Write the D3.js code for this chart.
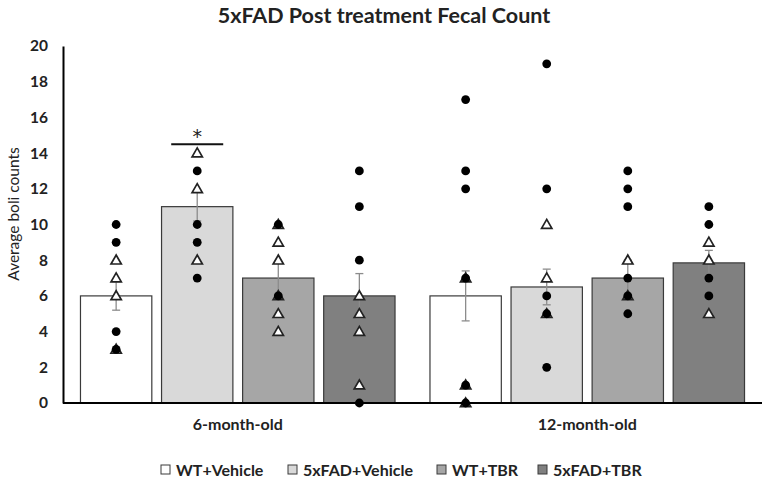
<!DOCTYPE html>
<html><head><meta charset="utf-8">
<script src="https://cdn.jsdelivr.net/npm/d3@7"></script>
<style>body{margin:0;background:#fff;} svg{display:block;}</style>
</head><body>
<svg id="c" width="769" height="484"></svg>
<script>
const ages = ["6-month-old", "12-month-old"];
const groups = ["WT+Vehicle", "5xFAD+Vehicle", "WT+TBR", "5xFAD+TBR"];
const colors = ["#ffffff", "#d9d9d9", "#a6a6a6", "#808080"];
const means6 = [6, 11, 7, 6];
const means12 = [6, 6.5, 7, 7.85];
const sem6 = [0.8, 0.8, 0.9, 1.25];
const sem12 = [1.4, 1.0, 1.0, 0.7];
// individual points: circles (males) and triangles (females)
const circles6 = [[10, 9, 4, 3], [13, 10, 9, 7], [10, 6], [13, 11, 8, 0]];
const triangles6 = [[8, 7, 6, 3], [14, 12, 8], [10, 9, 8, 6, 5, 4], [6, 5, 4, 1]];
const circles12 = [[17, 13, 12, 7, 1, 0], [19, 12, 6, 5, 2], [13, 12, 11, 7, 6, 5], [11, 10, 7, 6]];
const triangles12 = [[7, 1, 0], [10, 7, 5], [8, 6], [9, 8, 5]];
const yTicks = [0, 2, 4, 6, 8, 10, 12, 14, 16, 18, 20];

(function () {
const rows = [];
ages.forEach((a, ai) => groups.forEach((g, gi) => rows.push({
  age: a, group: g, gi,
  mean: ai === 0 ? means6[gi] : means12[gi],
  sem: ai === 0 ? sem6[gi] : sem12[gi],
  circles: ai === 0 ? circles6[gi] : circles12[gi],
  triangles: ai === 0 ? triangles6[gi] : triangles12[gi]
})));

const svg = d3.select("#c");
const font = "Lato, 'Open Sans', sans-serif";
const pl = 63, pr = 762, pt = 46, pb = 403;
const x0 = d3.scaleBand().domain(ages).range([pl, pr]).paddingInner(0.1).paddingOuter(0.05);
const x1 = d3.scaleBand().domain(groups).range([0, x0.bandwidth()]).paddingInner(0.12);
const y = d3.scaleLinear().domain([0, 20]).range([pb, pt]);

svg.append("text").attr("x", 384).attr("y", 23).attr("text-anchor", "middle")
  .attr("font-family", font).attr("font-weight", "bold").attr("font-size", 21.5).attr("fill", "#222")
  .text("5xFAD Post treatment Fecal Count");

// bars
const g = svg.append("g");
const bx = d => x0(d.age) + x1(d.group);
g.selectAll("rect.bar").data(rows).join("rect")
  .attr("x", bx).attr("y", d => y(d.mean))
  .attr("width", x1.bandwidth()).attr("height", d => y(0) - y(d.mean))
  .attr("fill", d => colors[d.gi]).attr("stroke", "#3a3a3a").attr("stroke-width", 1.2);

// error bars
const cx = d => bx(d) + x1.bandwidth() / 2;
const eb = g.selectAll("g.eb").data(rows).join("g").attr("stroke", "#8c8c8c").attr("stroke-width", 1.3);
eb.append("line").attr("x1", cx).attr("x2", cx).attr("y1", d => y(d.mean - d.sem)).attr("y2", d => y(d.mean + d.sem));
eb.append("line").attr("x1", d => cx(d) - 4).attr("x2", d => cx(d) + 4).attr("y1", d => y(d.mean + d.sem)).attr("y2", d => y(d.mean + d.sem));
eb.append("line").attr("x1", d => cx(d) - 4).attr("x2", d => cx(d) + 4).attr("y1", d => y(d.mean - d.sem)).attr("y2", d => y(d.mean - d.sem));

// points
rows.forEach(d => {
  const xc = cx(d);
  g.selectAll(null).data(d.triangles).join("path")
    .attr("d", d3.symbol().type(d3.symbolTriangle).size(46))
    .attr("transform", v => `translate(${xc},${y(v) + 0.8})`)
    .attr("fill", "#fff").attr("stroke", "#222").attr("stroke-width", 1.7);
  g.selectAll(null).data(d.circles).join("circle")
    .attr("cx", xc).attr("cy", v => y(v)).attr("r", 4.4).attr("fill", "#000");
});

// axes
const ya = svg.append("g").attr("transform", `translate(${pl},0)`)
  .call(d3.axisLeft(y).tickValues(yTicks).tickSize(0).tickPadding(15));
ya.select(".domain").attr("stroke", "#000").attr("stroke-width", 2);
ya.selectAll("text").attr("font-family", font).attr("font-weight", "bold").attr("font-size", 15.5).attr("fill", "#222");

const xa = svg.append("g").attr("transform", `translate(0,${pb})`)
  .call(d3.axisBottom(x0).tickSize(0).tickPadding(16));
xa.select(".domain").attr("d", `M${pl},0H${pr}`).attr("stroke", "#000").attr("stroke-width", 2);
xa.selectAll("text").attr("font-family", font).attr("font-weight", "bold").attr("font-size", 16).attr("fill", "#222");

svg.append("text").attr("transform", `translate(19,214) rotate(-90)`)
  .attr("text-anchor", "middle").attr("font-family", font).attr("font-size", 15.5).attr("fill", "#222")
  .text("Average boli counts");

// significance
const r1 = rows[1];
svg.append("line").attr("x1", cx(r1) - 26).attr("x2", cx(r1) + 26).attr("y1", y(14.5)).attr("y2", y(14.5))
  .attr("stroke", "#111").attr("stroke-width", 2);
svg.append("text").attr("x", cx(r1)).attr("y", y(14.5) - 1).attr("text-anchor", "middle")
  .attr("font-family", "'DejaVu Sans', sans-serif").attr("font-size", 19).attr("fill", "#222").text("*");

// legend
const legX = [161, 288, 437, 538];
const lg = svg.append("g");
groups.forEach((name, i) => {
  lg.append("rect").attr("x", legX[i]).attr("y", 465).attr("width", 9).attr("height", 9)
    .attr("fill", colors[i]).attr("stroke", "#3a3a3a").attr("stroke-width", 1);
  lg.append("text").attr("x", legX[i] + 15).attr("y", 475.5).attr("font-family", font)
    .attr("font-weight", "bold").attr("font-size", 16).attr("fill", "#222").text(name);
});
})();
</script>
</body></html>
